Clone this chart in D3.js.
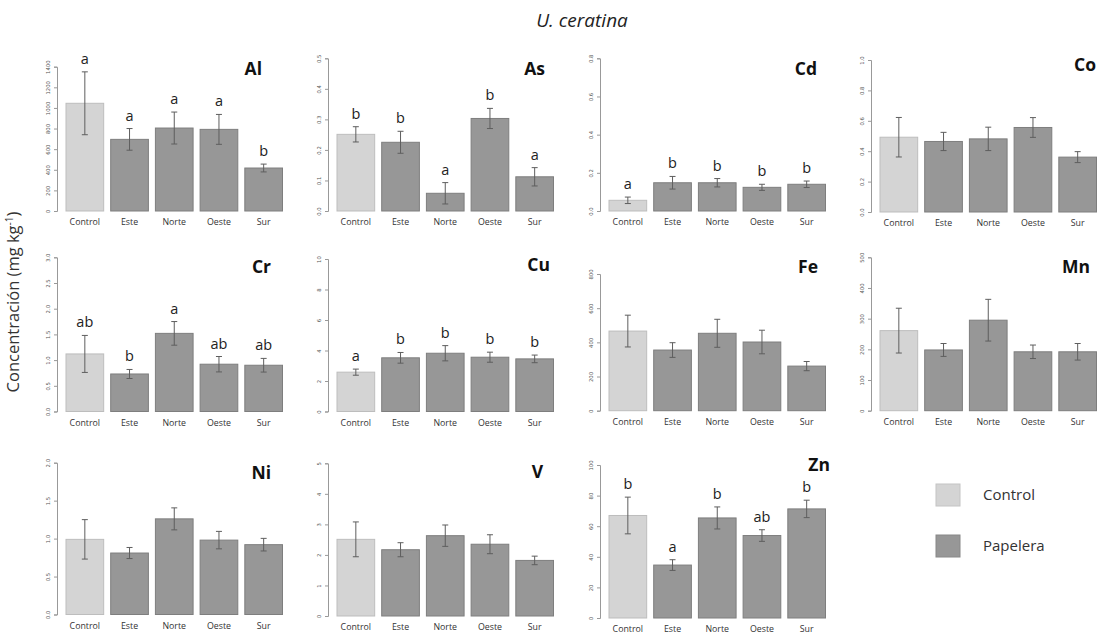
<!DOCTYPE html>
<html>
<head>
<meta charset="utf-8">
<script src="https://cdn.jsdelivr.net/npm/d3@7"></script>
<style>
  body { margin: 0; background: #fff; }
  svg { display: block; }
</style>
</head>
<body>
<div id="chart"></div>
<script>
// sites on the x axis of every panel
const sites = ["Control", "Este", "Norte", "Oeste", "Sur"];
const elements = ["Al", "As", "Cd", "Co", "Cr", "Cu", "Fe", "Mn", "Ni", "V", "Zn"];

// mean concentration per site
const meanAl = [1045, 695, 805, 792, 417];
const meanAs = [0.251, 0.225, 0.058, 0.303, 0.112];
const meanCd = [0.056, 0.148, 0.148, 0.124, 0.140];
const meanCo = [0.492, 0.464, 0.481, 0.556, 0.361];
const meanCr = [1.12, 0.73, 1.52, 0.92, 0.90];
const meanCu = [2.58, 3.52, 3.82, 3.56, 3.45];
const meanFe = [466, 355, 453, 402, 261];
const meanMn = [261, 198, 295, 192, 192];
const meanNi = [0.99, 0.81, 1.26, 0.98, 0.92];
const meanV = [2.51, 2.17, 2.63, 2.35, 1.82];
const meanZn = [67.0, 34.6, 65.4, 53.9, 71.3];

// error (half length of the whisker)
const errAl = [305, 105, 155, 145, 38];
const errAs = [0.025, 0.036, 0.035, 0.033, 0.030];
const errCd = [0.017, 0.033, 0.022, 0.016, 0.017];
const errCo = [0.13, 0.06, 0.077, 0.065, 0.036];
const errCr = [0.36, 0.088, 0.23, 0.15, 0.133];
const errCu = [0.2, 0.35, 0.5, 0.33, 0.25];
const errFe = [93, 43, 82, 69, 27];
const errMn = [73, 21, 68, 22, 27];
const errNi = [0.26, 0.073, 0.145, 0.115, 0.083];
const errV = [0.57, 0.23, 0.35, 0.31, 0.14];
const errZn = [12, 3.5, 7.2, 3.8, 5.7];

// significance letters ("" = none shown)
const letAl = ["a", "a", "a", "a", "b"];
const letAs = ["b", "b", "a", "b", "a"];
const letCd = ["a", "b", "b", "b", "b"];
const letCr = ["ab", "b", "a", "ab", "ab"];
const letCu = ["a", "b", "b", "b", "b"];
const letZn = ["b", "a", "b", "ab", "b"];
const noLet = ["", "", "", "", ""];

// y axis ticks: top tick and step
const axisMax = [1400, 0.5, 0.8, 1.0, 3.0, 10, 800, 500, 2.0, 5, 100];
const axisStep = [200, 0.1, 0.2, 0.2, 0.5, 2, 200, 100, 0.5, 1, 20];

const legendLabels = ["Control", "Papelera"];

const means = [meanAl, meanAs, meanCd, meanCo, meanCr, meanCu, meanFe, meanMn, meanNi, meanV, meanZn];
const errs = [errAl, errAs, errCd, errCo, errCr, errCu, errFe, errMn, errNi, errV, errZn];
const lets = [letAl, letAs, letCd, noLet, letCr, letCu, noLet, noLet, noLet, noLet, letZn];

// layout of the pasted panels
const colX = [57, 328, 600, 871];
const zeroY = [211, 211, 211, 212, 411.5, 411.5, 410.7, 410.7, 614.5, 616, 618];
const topY = [66.7, 58.3, 58.3, 60, 257.3, 259, 274, 257.3, 462.7, 463.3, 465];
const titlePos = [[262, 75], [545, 75], [817, 75], [1096, 71], [271, 273], [550, 271], [818, 273], [1090, 273], [271, 479], [543, 478], [830, 471]];

const W = 1097, H = 642;
const lightFill = "#d4d4d4", darkFill = "#979797";

const svg = d3.select("#chart").append("svg")
  .attr("width", W)
  .attr("height", H);

svg.append("text")
  .attr("x", 582).attr("y", 27)
  .attr("text-anchor", "middle")
  .style("font-family", "Open Sans, sans-serif")
  .style("font-style", "italic")
  .style("font-size", "19px")
  .style("fill", "#222")
  .text("U. ceratina");

// y axis title
let yt = svg.append("text")
  .attr("transform", "translate(19,302) rotate(-90)")
  .attr("text-anchor", "middle")
  .style("font-family", "Open Sans, sans-serif")
  .style("font-size", "16.5px")
  .style("fill", "#333");
yt.append("tspan").text("Concentración (mg kg");
yt.append("tspan").attr("dy", -6).style("font-size", "10px").text("-1");
yt.append("tspan").attr("dy", 6).text(")");

elements.forEach(function (el, i) {
  let ax = colX[i % 4];
  let g = svg.append("g");

  let x = d3.scaleBand()
    .domain(sites)
    .range([ax + 9, ax + 225.5])
    .paddingInner(0.157)
    .paddingOuter(0);

  let y = d3.scaleLinear()
    .domain([0, axisMax[i]])
    .range([zeroY[i], topY[i]]);

  let step = axisStep[i];
  let ticks = d3.range(0, axisMax[i] + step / 2, step);
  let fmt = step < 1 ? d3.format(".1f") : d3.format("d");

  // R style axis with vertical labels
  let yAxis = g.append("g")
    .attr("transform", "translate(" + ax + ",0)")
    .call(d3.axisLeft(y).tickValues(ticks).tickFormat(fmt).tickSize(3).tickPadding(3));
  yAxis.select(".domain").attr("stroke", "#999");
  yAxis.selectAll(".tick line").attr("stroke", "#999");
  yAxis.selectAll(".tick text")
    .attr("x", -7).attr("dy", 0)
    .attr("transform", "rotate(-90,-7,0)")
    .attr("text-anchor", "middle")
    .style("font-family", "DejaVu Sans, sans-serif")
    .style("font-size", "5.3px")
    .style("fill", "#555");

  let rows = sites.map(function (s, k) {
    return { site: s, mean: means[i][k], err: errs[i][k], letter: lets[i][k] };
  });

  g.selectAll("rect.bar")
    .data(rows)
    .enter()
    .append("rect")
    .attr("class", "bar")
    .attr("x", function (d) { return x(d.site) })
    .attr("y", function (d) { return y(d.mean) })
    .attr("width", x.bandwidth())
    .attr("height", function (d) { return y(0) - y(d.mean) })
    .attr("fill", function (d, k) { return k == 0 ? lightFill : darkFill })
    .attr("stroke", function (d, k) { return k == 0 ? "#bdbdbd" : "#7e7e7e" })
    .attr("stroke-width", 1);

  // whiskers
  let cap = 3;
  g.selectAll("line.err")
    .data(rows)
    .enter()
    .append("line")
    .attr("class", "err")
    .attr("x1", function (d) { return x(d.site) + x.bandwidth() / 2 })
    .attr("x2", function (d) { return x(d.site) + x.bandwidth() / 2 })
    .attr("y1", function (d) { return y(d.mean - d.err) })
    .attr("y2", function (d) { return y(d.mean + d.err) })
    .attr("stroke", "#5e5e5e");
  ["+", "-"].forEach(function (sign) {
    g.selectAll("line.cap" + (sign == "+" ? "hi" : "lo"))
      .data(rows)
      .enter()
      .append("line")
      .attr("x1", function (d) { return x(d.site) + x.bandwidth() / 2 - cap })
      .attr("x2", function (d) { return x(d.site) + x.bandwidth() / 2 + cap })
      .attr("y1", function (d) { return y(sign == "+" ? d.mean + d.err : d.mean - d.err) })
      .attr("y2", function (d) { return y(sign == "+" ? d.mean + d.err : d.mean - d.err) })
      .attr("stroke", "#5e5e5e");
  });

  // letters above whiskers
  g.selectAll("text.letter")
    .data(rows.filter(function (d) { return d.letter != "" }))
    .enter()
    .append("text")
    .attr("x", function (d) { return x(d.site) + x.bandwidth() / 2 })
    .attr("y", function (d) { return y(d.mean + d.err) - 8 })
    .attr("text-anchor", "middle")
    .style("font-family", "Open Sans, sans-serif")
    .style("font-size", "14.5px")
    .style("fill", "#222")
    .text(function (d) { return d.letter });

  // site labels
  g.selectAll("text.site")
    .data(sites)
    .enter()
    .append("text")
    .attr("x", function (d) { return x(d) + x.bandwidth() / 2 })
    .attr("y", zeroY[i] + 14)
    .attr("text-anchor", "middle")
    .style("font-family", "Open Sans, sans-serif")
    .style("font-size", "8.8px")
    .style("fill", "#333")
    .text(function (d) { return d });

  g.append("text")
    .attr("x", titlePos[i][0]).attr("y", titlePos[i][1])
    .attr("text-anchor", "end")
    .style("font-family", "Open Sans, sans-serif")
    .style("font-weight", "bold")
    .style("font-size", "17.5px")
    .style("fill", "#111")
    .text(el);
});

// legend
let lg = svg.append("g");
lg.selectAll("rect")
  .data(legendLabels)
  .enter()
  .append("rect")
  .attr("x", 936)
  .attr("y", function (d, k) { return 484 + k * 51 })
  .attr("width", 24).attr("height", 22)
  .attr("fill", function (d, k) { return k == 0 ? lightFill : darkFill })
  .attr("stroke", function (d, k) { return k == 0 ? "#c4c4c4" : "#888" });
lg.selectAll("text")
  .data(legendLabels)
  .enter()
  .append("text")
  .attr("x", 983)
  .attr("y", function (d, k) { return 500 + k * 51 })
  .style("font-family", "Open Sans, sans-serif")
  .style("font-size", "15px")
  .style("fill", "#333")
  .text(function (d) { return d });
</script>
</body>
</html>
